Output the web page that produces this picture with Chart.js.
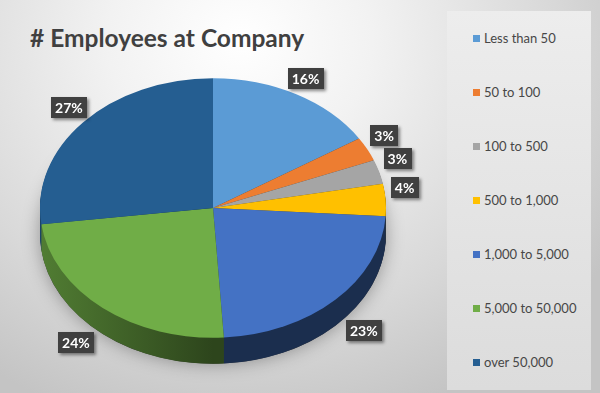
<!DOCTYPE html>
<html>
<head>
<meta charset="utf-8">
<script src="https://cdn.jsdelivr.net/npm/chart.js@4.4.1/dist/chart.umd.min.js"></script>
<style>
    html, body { margin: 0; padding: 0; }
    body {
        width: 600px; height: 393px; overflow: hidden; position: relative;
        background: radial-gradient(ellipse 440px 400px at 240px 40px, #ffffff 0%, #f2f2f2 30%, #d8d8d8 72%, #c4c4c4 100%);
        font-family: Lato, "Open Sans", sans-serif;
    }
    #title { position: absolute; left: 30px; top: 23px; font-weight: bold; font-size: 24.5px; color: #404040; white-space: nowrap; }
    #chartBox { position: absolute; left: 0; top: 0; width: 440px; height: 393px; }
    #legendPanel {
        position: absolute; left: 447px; top: 11px; width: 144px; height: 379px;
        background: linear-gradient(#ededed, #dcdcdc);
    }
    .legend-item { position: absolute; left: 26px; height: 16px; line-height: 16px; font-size: 13px; color: #474747; white-space: nowrap; }
    .legend-box { display: inline-block; width: 7px; height: 7px; margin-right: 4px; vertical-align: 1px; }
</style>
</head>
<body>
<div id="title"></div>
<div id="chartBox"><canvas id="pieChart"></canvas></div>
<div id="legendPanel"></div>

<script>
// Chart data
const chartTitle = '# Employees at Company';
const categories = ['Less than 50', '50 to 100', '100 to 500', '500 to 1,000', '1,000 to 5,000', '5,000 to 50,000', 'over 50,000'];
const shares = [16, 3, 3, 4, 23, 24, 27];
const sliceColors = ['#5B9BD5', '#ED7D31', '#A5A5A5', '#FFC000', '#4472C4', '#70AD47', '#255E91'];

// 3D look
const TILT = 0.75;      // vertical squash of the pie
const DEPTH = 26;       // side height in px
const ELLIPSE_Y = 208;  // screen y of the pie centre
const LABEL_Y = 196;    // labels are placed round the perspective centre

function shade(hex, f) {
    const n = parseInt(hex.slice(1), 16);
    const r = Math.round(((n >> 16) & 255) * f);
    const g = Math.round(((n >> 8) & 255) * f);
    const b = Math.round((n & 255) * f);
    return `rgb(${r},${g},${b})`;
}

document.getElementById('title').textContent = chartTitle;

// Legend
const panel = document.getElementById('legendPanel');
categories.forEach((cat, i) => {
    const item = document.createElement('div');
    item.className = 'legend-item';
    item.style.top = (38 + i * 54 - 11 - 8) + 'px';
    item.innerHTML = `<span class="legend-box" style="background:${sliceColors[i]}"></span>${cat}`;
    panel.appendChild(item);
});

const tiltPlugin = {
    id: 'tilt',
    beforeDatasetsDraw(chart) {
        const ctx = chart.ctx;
        const arcs = chart.getDatasetMeta(0).data;
        const cx = arcs[0].x, cy = arcs[0].y, r = arcs[0].outerRadius;
        ctx.save();
        ctx.translate(0, ELLIPSE_Y);
        ctx.scale(1, TILT);
        ctx.translate(0, -cy);

        // soft shadow under the pie
        ctx.save();
        ctx.shadowColor = 'rgba(0,0,0,0.35)';
        ctx.shadowBlur = 18;
        ctx.beginPath();
        ctx.arc(cx, cy + DEPTH / TILT, r, 0, Math.PI * 2);
        ctx.fillStyle = '#333';
        ctx.fill();
        ctx.restore();

        // sides
        for (let d = DEPTH; d >= 1; d--) {
            arcs.forEach((arc, i) => {
                const grad = ctx.createLinearGradient(cx - r, 0, cx + r, 0);
                grad.addColorStop(0, shade(sliceColors[i], 0.72));
                grad.addColorStop(0.5, shade(sliceColors[i], 0.4));
                grad.addColorStop(1, shade(sliceColors[i], 0.4));
                ctx.beginPath();
                ctx.moveTo(arc.x, arc.y + d / TILT);
                ctx.arc(arc.x, arc.y + d / TILT, arc.outerRadius, arc.startAngle, arc.endAngle);
                ctx.closePath();
                ctx.fillStyle = grad;
                ctx.fill();
            });
        }
    },
    afterDatasetsDraw(chart) {
        const ctx = chart.ctx;
        ctx.restore();

        // data labels
        const arcs = chart.getDatasetMeta(0).data;
        ctx.save();
        ctx.font = 'bold 14px Lato, "Open Sans", sans-serif';
        ctx.textAlign = 'center';
        ctx.textBaseline = 'middle';
        arcs.forEach((arc, i) => {
            const mid = (arc.startAngle + arc.endAngle) / 2;
            const dx = Math.cos(mid), dy = Math.sin(mid);
            const kx = arc.outerRadius + 19 + (dy > 0 ? 30 * dy : 0);
            const ky = dy > 0 ? 190 : 134;
            const x = arc.x + kx * dx;
            const y = LABEL_Y + ky * dy;
            const text = shares[i] + '%';
            const w = ctx.measureText(text).width + 8;
            const h = 21;
            ctx.shadowColor = 'rgba(0,0,0,0.45)';
            ctx.shadowBlur = 3;
            ctx.shadowOffsetX = 2;
            ctx.shadowOffsetY = 2;
            ctx.fillStyle = '#404040';
            ctx.fillRect(Math.round(x - w / 2), Math.round(y - h / 2), Math.round(w), h);
            ctx.shadowColor = 'transparent';
            ctx.fillStyle = '#ffffff';
            ctx.fillText(text, x, y + 1);
        });
        ctx.restore();
    }
};

new Chart(document.getElementById('pieChart'), {
    type: 'pie',
    data: {
        labels: categories,
        datasets: [{
            data: shares,
            backgroundColor: sliceColors,
            borderWidth: 0,
            clip: false
        }]
    },
    options: {
        responsive: true,
        maintainAspectRatio: false,
        animation: false,
        layout: {
            padding: { left: 40, right: 54, top: 32, bottom: 15 }
        },
        plugins: {
            legend: { display: false },
            tooltip: { enabled: false }
        }
    },
    plugins: [tiltPlugin]
});
</script>
</body>
</html>
